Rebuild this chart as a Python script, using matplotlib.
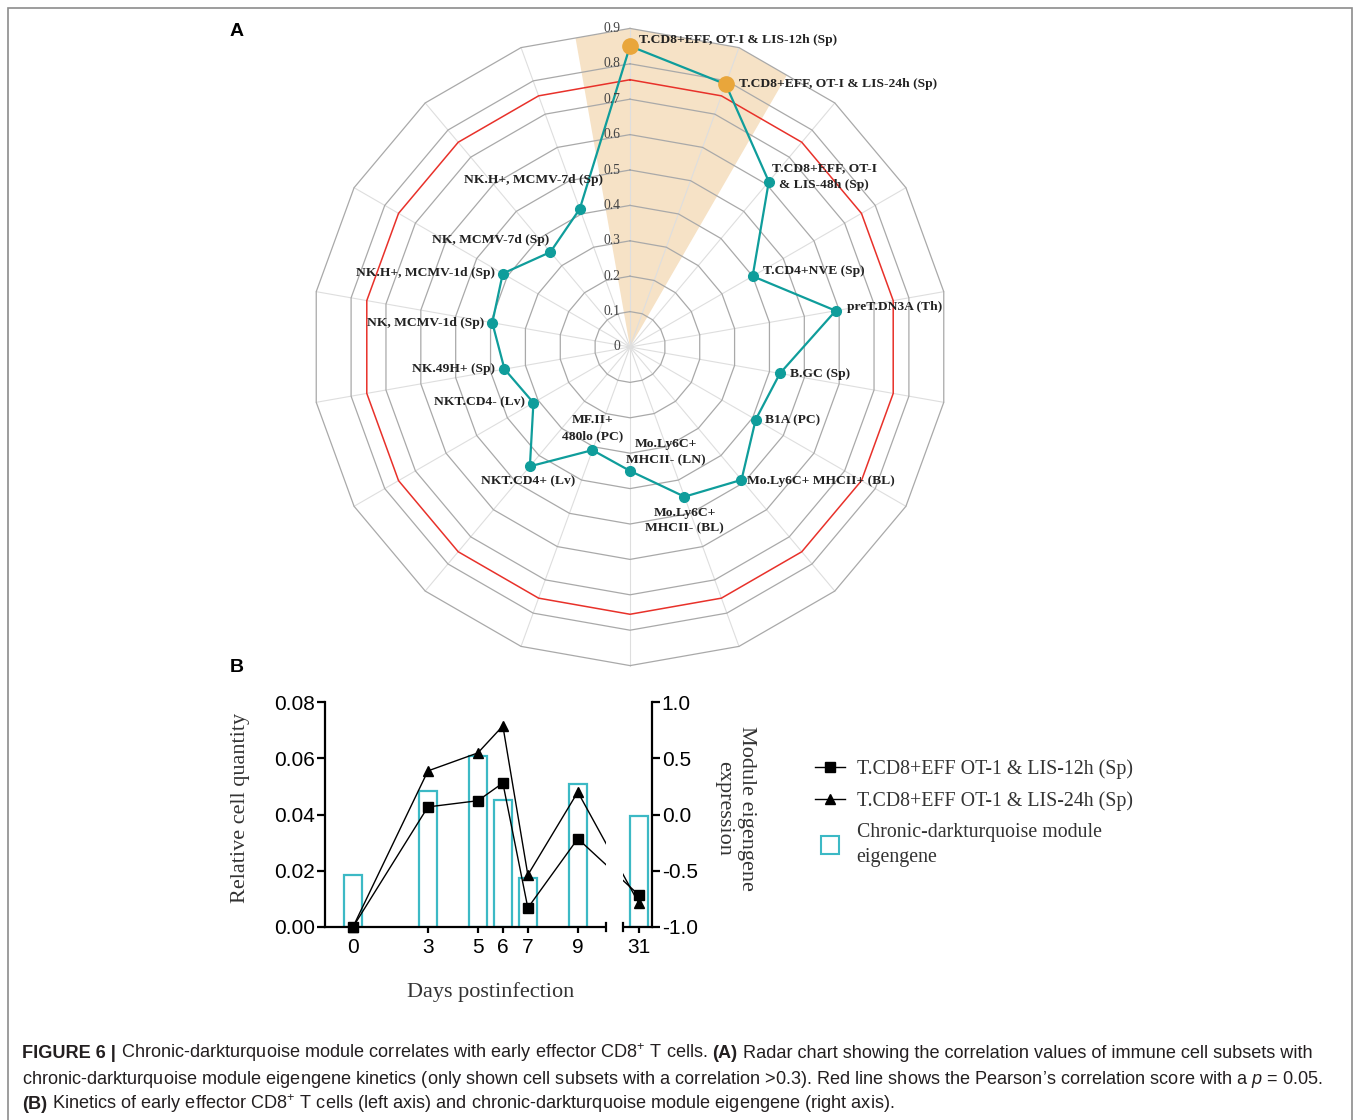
import numpy as np
import matplotlib
matplotlib.use("Agg")
import matplotlib.pyplot as plt
from matplotlib.lines import Line2D
from matplotlib.patches import Rectangle
from matplotlib.ticker import FormatStrFormatter, NullLocator
from matplotlib.transforms import blended_transform_factory

plt.rcParams['axes.unicode_minus'] = False
plt.rcParams['mathtext.fontset'] = 'custom'
plt.rcParams['mathtext.rm'] = 'Liberation Sans'
plt.rcParams['mathtext.it'] = 'Liberation Sans:italic'

# ---------------- panel A data (radar) ----------------
cell_subsets = [
    'T.CD8+EFF, OT-I & LIS-12h (Sp)',
    'T.CD8+EFF, OT-I & LIS-24h (Sp)',
    'T.CD8+EFF, OT-I\n& LIS-48h (Sp)',
    'T.CD4+NVE (Sp)',
    'preT.DN3A (Th)',
    'B.GC (Sp)',
    'B1A (PC)',
    'Mo.Ly6C+ MHCII+ (BL)',
    'Mo.Ly6C+\nMHCII- (BL)',
    'Mo.Ly6C+\nMHCII- (LN)',
    'MF.II+\n480lo (PC)',
    'NKT.CD4+ (Lv)',
    'NKT.CD4- (Lv)',
    'NK.49H+ (Sp)',
    'NK, MCMV-1d (Sp)',
    'NK.H+, MCMV-1d (Sp)',
    'NK, MCMV-7d (Sp)',
    'NK.H+, MCMV-7d (Sp)',
]
correlations = [0.85, 0.79, 0.61, 0.40, 0.59, 0.43, 0.41, 0.49, 0.45,
                0.35, 0.31, 0.44, 0.315, 0.36, 0.395, 0.415, 0.35, 0.415]
highlighted = [0, 1]
pearson_cutoff = 0.755
radar_ticks = [0, 0.1, 0.2, 0.3, 0.4, 0.5, 0.6, 0.7, 0.8, 0.9]

# ---------------- panel B data (kinetics) ----------------
days = [0, 3, 5, 6, 7, 9, 31]
eff_12h = [0.0, 0.0427, 0.0449, 0.0512, 0.0068, 0.0314, 0.0114]
eff_24h = [0.0, 0.0555, 0.0619, 0.0715, 0.0185, 0.0480, 0.0085]
eigengene = [-0.54, 0.21, 0.52, 0.13, -0.56, 0.27, -0.01]

# label placement for the radar (pixels: dx, dy, horizontal alignment)
label_offsets = [(9, 6, 'left'), (13, 0, 'left'), (3, 5, 'left'), (10, 5, 'left'),
                 (11, 4, 'left'), (10, -1, 'left'), (9, -1, 'left'), (6, -1, 'left'),
                 (0, -24, 'center'), (36, 19, 'center'), (0, 22, 'center'),
                 (-2, -15, 'center'), (-8, 0, 'right'), (-9, 0, 'right'),
                 (-8, 0, 'right'), (-8, 1, 'right'), (-1, 12, 'right'), (23, 29, 'right')]

W, H = 1360, 1120
teal = '#0f9d9b'
bar_teal = '#3cb9c5'
serif = 'Liberation Serif'
sans = 'Liberation Sans'


def px_rect(x0, y0, x1, y1):
    return [x0 / W, 1 - y1 / H, (x1 - x0) / W, (y1 - y0) / H]


fig = plt.figure(figsize=(W / 100, H / 100), dpi=100)

# frame around the figure
fig.add_artist(Rectangle((8 / W, -0.01), (1352 - 8) / W, 1 - 8 / H + 0.01,
                         transform=fig.transFigure, fill=False,
                         edgecolor='#8c8c8c', lw=1.2))

fig.text(237 / W, 1 - 32 / H, 'A', ha='center', va='center', fontsize=14,
         weight='bold', family=sans)
fig.text(237 / W, 1 - 668 / H, 'B', ha='center', va='center', fontsize=14,
         weight='bold', family=sans)

# ---------------- radar ----------------
R = 318.6
axr = fig.add_axes(px_rect(630 - R, 347 - R, 630 + R, 347 + R), projection='polar')
axr.set_theta_zero_location('N')
axr.set_theta_direction(-1)
axr.set_ylim(0, 0.9)
axr.grid(False)
axr.set_xticks([])
axr.set_yticks([])
axr.spines['polar'].set_visible(False)
axr.set_facecolor('none')

n = len(correlations)
theta = np.arange(n) * 2 * np.pi / n
theta_closed = np.append(theta, theta[0])
half = np.pi / n
rmax = radar_ticks[-1]

# shaded wedge over the highlighted subsets
w_th = [0, theta[highlighted[0]] - half, theta[highlighted[0]], theta[highlighted[-1]],
        theta[highlighted[-1]] + half, 0]
w_r = [0, rmax * np.cos(half), rmax, rmax, rmax * np.cos(half), 0]
axr.fill(w_th, w_r, color='#f6e2c6', lw=0, zorder=0, clip_on=False)

for t in theta:
    axr.plot([t, t], [0, rmax], color='#dedede', lw=0.8, zorder=1, clip_on=False)
for r in radar_ticks[1:]:
    axr.plot(theta_closed, [r] * (n + 1), color='#a9a9a9', lw=0.9, zorder=1, clip_on=False)
axr.plot(theta_closed, [pearson_cutoff] * (n + 1), color='#e8312a', lw=1.1, zorder=2)

vals = np.array(correlations)
axr.plot(theta_closed, np.append(vals, vals[0]), color=teal, lw=1.6, marker='o',
         ms=7, zorder=3, clip_on=False)
axr.plot(theta[highlighted], vals[highlighted], 'o', color='#e9a63b', ms=11, zorder=4,
         clip_on=False)

for r in radar_ticks:
    axr.annotate(f'{r:g}', xy=(0, r), xytext=(-10, 0), textcoords='offset pixels',
                 ha='right', va='center', fontsize=9.8, family=serif, color='#444444')

for t, v, lab, (dx, dy, ha) in zip(theta, vals, cell_subsets, label_offsets):
    txt = axr.annotate(lab, xy=(t, v), xytext=(dx, dy), textcoords='offset pixels',
                       ha=ha, va='center', ma='center', fontsize=9.7, weight='bold',
                       family=serif, color='#222222', zorder=5)
    txt.set_linespacing(1.45)

# ---------------- kinetics with broken x axis ----------------
lo, hi, gap = 10.12, 30.36, 0.68


def fwd(x):
    x = np.asarray(x, float)
    return np.where(x <= lo, x, np.where(x >= hi, x - hi + lo + gap,
                                         lo + (x - lo) * gap / (hi - lo)))


def inv(y):
    y = np.asarray(y, float)
    return np.where(y <= lo, y, np.where(y >= lo + gap, y - lo - gap + hi,
                                         lo + (y - lo) * (hi - lo) / gap))


ax = fig.add_axes(px_rect(325, 702, 652, 927))
ax.set_xscale('function', functions=(fwd, inv))
ax.set_xlim(-1.12, 31.53)
ax2 = ax.twinx()
ax.set_zorder(ax2.get_zorder() + 1)
ax.patch.set_visible(False)

ax2.bar(days, np.array(eigengene) + 1, bottom=-1, width=0.72, facecolor='none',
        edgecolor=bar_teal, lw=1.6)
ax2.set_ylim(-1, 1)

ax.plot(days, eff_12h, color='k', lw=1, marker='s', ms=7, zorder=3, clip_on=False)
ax.plot(days, eff_24h, color='k', lw=1, marker='^', ms=7, zorder=3, clip_on=False)
ax.set_ylim(0, 0.08)

trans = blended_transform_factory(ax.transData, ax.transAxes)
ax.add_patch(Rectangle((lo, -0.05), hi - lo, 1.1, transform=trans, facecolor='white',
                       edgecolor='none', zorder=5, clip_on=False))
for xb in (lo, hi):
    ax.plot([xb, xb], [-0.016, 0.016], transform=trans, color='k', lw=1.6,
            clip_on=False, zorder=6)

for s in ['top', 'right']:
    ax.spines[s].set_visible(False)
for s in ['top', 'left', 'bottom']:
    ax2.spines[s].set_visible(False)
ax.spines['left'].set_linewidth(1.6)
ax.spines['bottom'].set_linewidth(1.6)
ax2.spines['right'].set_linewidth(1.6)

ax.set_xticks(days)
ax.set_xticklabels([str(d) for d in days])
ax.xaxis.set_minor_locator(NullLocator())
ax.set_yticks([0, 0.02, 0.04, 0.06, 0.08])
ax.yaxis.set_major_formatter(FormatStrFormatter('%.2f'))
ax2.set_yticks([-1, -0.5, 0, 0.5, 1])
ax2.yaxis.set_major_formatter(FormatStrFormatter('%.1f'))
ax.tick_params(axis='y', direction='out', length=6, width=1.6, pad=1, labelsize=15)
ax.tick_params(axis='x', direction='out', length=4, width=1.6, pad=4, labelsize=15)
ax2.tick_params(axis='y', direction='out', length=6, width=1.6, pad=1, labelsize=15)
for lab in ax.get_xticklabels() + ax.get_yticklabels() + ax2.get_yticklabels():
    lab.set_family(sans)

fig.text(240 / W, 1 - 808 / H, 'Relative cell quantity', rotation=90, ha='center',
         va='center', fontsize=16, family=serif, color='#333333')
fig.text(491 / W, 1 - 992 / H, 'Days postinfection', ha='center', va='center',
         fontsize=16, family=serif, color='#333333')
fig.text(735 / W, 1 - 808 / H, 'Module eigengene\nexpression', rotation=270,
         ha='center', va='center', ma='center', fontsize=16, family=serif,
         color='#333333', linespacing=1.3)

handles = [Line2D([], [], color='k', lw=1, marker='s', ms=7),
           Line2D([], [], color='k', lw=1, marker='^', ms=7),
           Line2D([], [], ls='none', marker='s', ms=13, mfc='none', mec=bar_teal, mew=1.5)]
labels = ['T.CD8+EFF OT-1 & LIS-12h (Sp)', 'T.CD8+EFF OT-1 & LIS-24h (Sp)',
          'Chronic-darkturquoise module\neigengene']
leg = fig.legend(handles, labels, loc='upper left', bbox_to_anchor=(815 / W, 1 - 759 / H),
                 frameon=False, prop={'family': serif, 'size': 14.3}, handlelength=1.5,
                 handletextpad=0.6, labelspacing=0.62, borderaxespad=0, borderpad=0)
for t in leg.get_texts():
    t.set_color('#333333')
    t.set_linespacing(1.45)

# ---------------- caption ----------------
fig.canvas.draw()
renderer = fig.canvas.get_renderer()
cap_size = 13.1
space = 5
caption_lines = [
    (1058, [('FIGURE 6 |', 'bold'),
            ('Chronic-darkturquoise module correlates with early effector CD8$^{+}$ T cells.', 'normal'),
            ('(A)', 'bold'),
            ('Radar chart showing the correlation values of immune cell subsets with', 'normal')]),
    (1084, [('chronic-darkturquoise module eigengene kinetics (only shown cell subsets with a '
             'correlation >0.3). Red line shows the Pearson\u2019s correlation score with a $p$ = 0.05.',
             'normal')]),
    (1109, [('(B)', 'bold'),
            ('Kinetics of early effector CD8$^{+}$ T cells (left axis) and chronic-darkturquoise '
             'module eigengene (right axis).', 'normal')]),
]
for y, segs in caption_lines:
    x = 22
    for s, w in segs:
        t = fig.text(x / W, 1 - y / H, s, ha='left', va='baseline', fontsize=cap_size,
                     weight=w, family=sans, color='#231f20')
        bb = t.get_window_extent(renderer=renderer)
        x = bb.x1 + space

fig.savefig('out.png', dpi=100)
